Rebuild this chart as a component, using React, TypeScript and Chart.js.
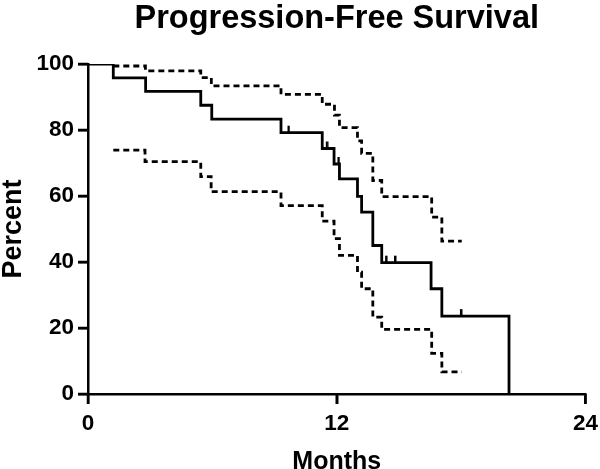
import React, { useEffect, useRef } from "react";
import { Chart, registerables } from "chart.js";

Chart.register(...registerables);

// Kaplan-Meier estimate (months, percent)
const kmMonths = [0, 1.22, 2.78, 5.44, 5.97, 9.31, 11.3, 11.87, 12.13, 13.0, 13.2, 13.74, 14.17, 16.55, 17.07, 20.31];
const kmPercent = [100, 95.8, 91.7, 87.5, 83.3, 79.2, 74.4, 69.7, 65.2, 59.9, 55.1, 45.0, 39.8, 31.9, 23.6, 0];

// Upper 95% confidence band
const upperMonths = [1.22, 2.77, 5.44, 5.95, 9.31, 11.3, 11.89, 12.13, 13.0, 13.2, 13.74, 14.17, 16.58, 17.07, 18.03];
const upperPercent = [99.4, 97.9, 95.9, 93.4, 90.8, 87.8, 84.5, 80.7, 76.7, 72.9, 64.7, 59.8, 53.6, 46.3, 46.3];

// Lower 95% confidence band
const lowerMonths = [1.22, 2.75, 5.44, 5.94, 9.31, 11.3, 11.87, 12.13, 13.0, 13.2, 13.74, 14.17, 16.58, 17.07, 18.03];
const lowerPercent = [73.9, 70.4, 65.9, 61.3, 57.1, 52.4, 47.1, 42.0, 36.9, 31.9, 23.3, 19.6, 12.3, 6.7, 6.7];

// Censored observations
const censorMonths = [9.67, 11.52, 12.08, 14.38, 14.81, 17.99];
const censorPercent = [79.2, 74.4, 69.7, 39.8, 39.8, 23.6];

const xTicks = [0, 12, 24];
const yTicks = [0, 20, 40, 60, 80, 100];

const FONT = "'Liberation Sans', Arial, Helvetica, sans-serif";
const TICK_LEN = 10;
const AXIS_W = 2.5;

function makeCensorMark(): HTMLCanvasElement {
  const c = document.createElement("canvas");
  c.width = 4;
  c.height = 16;
  const g = c.getContext("2d")!;
  g.fillStyle = "#000";
  g.fillRect(1, 1, 2.5, 7);
  return c;
}

const toXY = (xs: number[], ys: number[]) => xs.map((x, i) => ({ x, y: ys[i] }));

// outward tick marks of both axes, positioned by the library's scales
const tickMarks = {
  id: "tickMarks",
  afterDraw(chart: any) {
    const ctx = chart.ctx;
    const area = chart.chartArea;
    const xs = chart.scales.x;
    const ys = chart.scales.y;
    ctx.save();
    ctx.strokeStyle = "#000";
    ctx.lineWidth = AXIS_W;
    ctx.setLineDash([]);
    ctx.beginPath();
    for (const v of xTicks) {
      const px = xs.getPixelForValue(v);
      ctx.moveTo(px, area.bottom);
      ctx.lineTo(px, area.bottom + TICK_LEN);
    }
    for (const v of yTicks) {
      const py = ys.getPixelForValue(v);
      ctx.moveTo(area.left, py);
      ctx.lineTo(area.left - TICK_LEN, py);
    }
    ctx.stroke();
    ctx.restore();
  },
};

export default function App() {
  const ref = useRef<HTMLCanvasElement | null>(null);

  useEffect(() => {
    if (!ref.current) return;
    const mark = makeCensorMark();
    const chart = new Chart(ref.current, {
      type: "line",
      data: {
        datasets: [
          {
            label: "Upper",
            data: toXY(upperMonths, upperPercent),
            borderColor: "#000",
            borderWidth: 2.8,
            borderDash: [6, 4],
            stepped: "before",
            pointRadius: 0,
            fill: false,
          },
          {
            label: "Lower",
            data: toXY(lowerMonths, lowerPercent),
            borderColor: "#000",
            borderWidth: 2.8,
            borderDash: [6, 4],
            stepped: "before",
            pointRadius: 0,
            fill: false,
          },
          {
            label: "PFS",
            data: toXY(kmMonths, kmPercent),
            borderColor: "#000",
            borderWidth: 2.8,
            stepped: "before",
            pointRadius: 0,
            fill: false,
          },
          {
            label: "Censored",
            data: toXY(censorMonths, censorPercent),
            showLine: false,
            pointStyle: mark,
            pointRadius: 5,
            borderColor: "#000",
            backgroundColor: "#000",
          },
        ],
      },
      plugins: [tickMarks],
      options: {
        animation: false,
        responsive: false,
        layout: { padding: { left: 0, right: 14.5, top: 0, bottom: 0 } },
        plugins: {
          legend: { display: false },
          tooltip: { enabled: false },
          title: {
            display: true,
            text: "Progression-Free Survival",
            color: "#000",
            font: { family: FONT, size: 32.5, weight: "bold" },
            fullSize: false,
            padding: { top: 0, bottom: 25 },
          },
        },
        scales: {
          x: {
            type: "linear",
            min: 0,
            max: 24,
            afterBuildTicks: (s: any) => {
              s.ticks = xTicks.map((v) => ({ value: v }));
            },
            afterFit: (s: any) => {
              s.height = 75;
              s.paddingLeft = 0;
              s.paddingRight = 0;
            },
            ticks: {
              color: "#000",
              font: { family: FONT, size: 22.5, weight: "bold" },
              padding: 6,
              maxRotation: 0,
            },
            border: { display: true, color: "#000", width: AXIS_W },
            grid: {
              display: true,
              drawOnChartArea: false,
              drawTicks: true,
              tickLength: TICK_LEN,
              tickWidth: AXIS_W,
              tickColor: "#000",
              lineWidth: AXIS_W,
              color: "#000",
            },
            title: {
              display: true,
              text: "Months",
              color: "#000",
              font: { family: FONT, size: 25, weight: "bold" },
              padding: { top: 0, bottom: -8 },
            },
          },
          y: {
            type: "linear",
            min: 0,
            max: 100,
            afterBuildTicks: (s: any) => {
              s.ticks = yTicks.map((v) => ({ value: v }));
            },
            afterFit: (s: any) => {
              s.width = 88;
            },
            ticks: {
              color: "#000",
              font: { family: FONT, size: 22.5, weight: "bold" },
              padding: 4,
            },
            border: { display: true, color: "#000", width: AXIS_W },
            grid: {
              display: true,
              drawOnChartArea: false,
              drawTicks: true,
              tickLength: TICK_LEN,
              tickWidth: AXIS_W,
              tickColor: "#000",
              lineWidth: AXIS_W,
              color: "#000",
            },
            title: {
              display: true,
              text: "Percent",
              color: "#000",
              font: { family: FONT, size: 27, weight: "bold" },
              padding: { top: -3, bottom: 0 },
            },
          },
        },
      },
    });
    return () => chart.destroy();
  }, []);

  return (
    <div style={{ position: "absolute", left: 0, top: 0, width: 600, height: 469, background: "#fff" }}>
      <canvas ref={ref} width={600} height={469} style={{ display: "block" }} />
    </div>
  );
}
